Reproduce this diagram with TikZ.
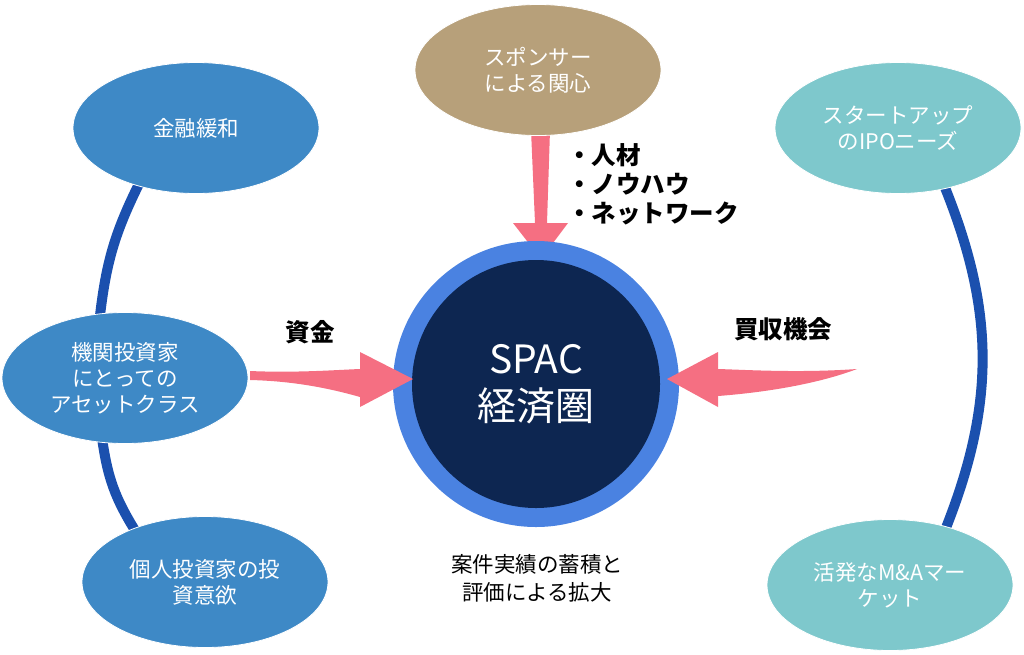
\documentclass[tikz,border=0pt]{standalone}
\usepackage{fontspec}
\usetikzlibrary{shapes.geometric}
\newfontfamily\jp{Noto Sans CJK JP}
\definecolor{eblue}{RGB}{62,137,198}
\definecolor{ebrown}{RGB}{183,160,122}
\definecolor{eteal}{RGB}{126,200,204}
\definecolor{ringblue}{RGB}{74,130,225}
\definecolor{coredark}{RGB}{13,38,81}
\definecolor{linkblue}{RGB}{27,80,174}
\definecolor{apink}{RGB}{245,111,130}
\tikzset{
  ell/.style={ellipse, draw=white, line width=0.8pt, minimum width=246pt, minimum height=131pt, inner sep=0pt,
    align=center, text=white, font=\jp\fontsize{21.5}{26}\selectfont},
  link/.style={draw=linkblue, line width=10pt, shorten <=-6pt, shorten >=-6pt},
  lbl/.style={font=\jp\bfseries\fontsize{24.5}{29}\selectfont, text=black, inner sep=0pt},
  parrow/.style={fill=apink}
}
\begin{document}
\begin{tikzpicture}[x=1pt,y=-1pt]
\useasboundingbox (0,0) rectangle (1024,654);
% connector end positions (ellipse nodes, drawn empty first)
\path
  node[ell, draw=none] (kinyu) at (196,128) {}
  node[ell, draw=none] (kikan) at (125,378) {}
  node[ell, draw=none] (kojin) at (205,582) {}
  node[ell, draw=none] (sponsor) at (538,70) {}
  node[ell, draw=none] (startup) at (898,128) {}
  node[ell, draw=none] (active) at (890,585) {};
% connectors behind
\draw[link] (kinyu.225) to[bend right=10] (kikan.111);
\draw[link] (kikan.251) to[bend right=12] (kojin.143);
\draw[link] (startup.308) to[bend left=22] (active.46);
% top arrow (behind sponsor)
\fill[parrow] (531,130) -- (550,130) -- (547,223) -- (568,223) -- (541,259) -- (513,223) -- (535,223) -- cycle;
% ellipses on top
\node[ell, fill=eblue] at (kinyu) {金融緩和};
\node[ell, fill=eblue] at (kikan) {機関投資家\\にとっての\\アセットクラス};
\node[ell, fill=eblue] at (kojin) {個人投資家の投\\資意欲};
\node[ell, fill=ebrown] at (sponsor) {スポンサー\\による関心};
\node[ell, fill=eteal] at (startup) {スタートアップ\\のIPOニーズ};
\node[ell, fill=eteal] at (active) {活発なM\&Aマー\\ケット};
% central circle
\node[circle, fill=ringblue, minimum size=286pt, inner sep=0pt] (ring) at (536,384) {};
\node[circle, fill=coredark, minimum size=248pt, inner sep=0pt, align=center, text=white,
  font=\jp\fontsize{39}{47}\selectfont] (core) at (ring) {SPAC\\経済圏};
% side arrows
\fill[parrow] (250,371) .. controls (295,373) and (335,370) .. (360,369) -- (360,352) -- (413,379)
  -- (360,407) -- (360,397) .. controls (325,387) and (290,381) .. (250,380) -- cycle;
\fill[parrow] (857,369) .. controls (800,373) and (750,370) .. (718,369) -- (718,352) -- (667,379)
  -- (718,407) -- (718,396) .. controls (770,392) and (820,383) .. (857,369) -- cycle;
% labels
\node[lbl] (shikin) at (310,332) {資金};
\node[lbl] (baishu) at (783,329) {買収機会};
\node[lbl, anchor=west] (b1) at (567,155) {・人材};
\node[lbl, anchor=west] (b2) at (567,184) {・ノウハウ};
\node[lbl, anchor=west] (b3) at (567,213) {・ネットワーク};
\node[align=center, font=\jp\fontsize{21.5}{28}\selectfont, inner sep=0pt] (anken) at (537,578)
  {案件実績の蓄積と\\評価による拡大};
\end{tikzpicture}
\end{document}
